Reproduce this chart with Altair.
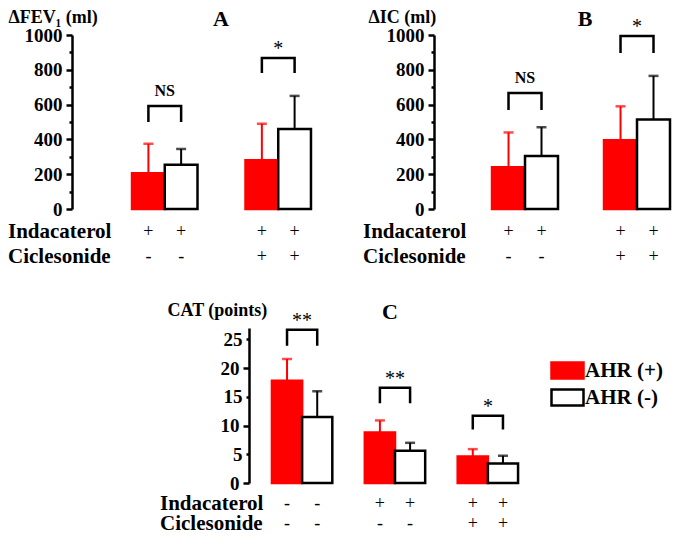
import altair as alt
import pandas as pd

FONT = "Liberation Serif"
RED = "#ff0000"

AHR = ["AHR (+)", "AHR (-)"]
GROUPS_AB = ["Indacaterol", "Indacaterol + Ciclesonide"]
GROUPS_C = ["Baseline", "Indacaterol", "Indacaterol + Ciclesonide"]

# Panel A: delta FEV1 (ml)
fev1_mean_pos = [205, 280]
fev1_sd_pos = [170, 210]
fev1_mean_neg = [255, 460]
fev1_sd_neg = [90, 190]
fev1_bracket_top = [592, 868]
fev1_bracket_leg = [500, 782]
fev1_sig = ["NS", "*"]

# Panel B: delta IC (ml)
ic_mean_pos = [240, 395]
ic_sd_pos = [200, 195]
ic_mean_neg = [305, 515]
ic_sd_neg = [165, 250]
ic_bracket_top = [667, 994]
ic_bracket_leg = [569, 897]
ic_sig = ["NS", "*"]

# Panel C: CAT (points)
cat_mean_pos = [17.8, 8.8, 4.6]
cat_sd_pos = [3.8, 2.1, 1.3]
cat_mean_neg = [11.5, 5.6, 3.4]
cat_sd_neg = [4.5, 1.4, 1.35]
cat_bracket_top = [26.7, 16.6, 11.7]
cat_bracket_leg = [23.9, 13.9, 9.3]
cat_sig = ["**", "**", "*"]

indac_ab = ["+", "+"]
cicle_ab = ["-", "+"]
indac_c = ["-", "+", "+"]
cicle_c = ["-", "-", "+"]


def text_layer(label, x, y, size, weight="bold", align="left"):
    return alt.Chart(pd.DataFrame({"t": [label]})).mark_text(
        font=FONT, fontSize=size, fontWeight=weight, align=align, baseline="middle", color="black"
    ).encode(x=alt.value(x), y=alt.value(y), text="t:N")


def anchor(x, y):
    # invisible layout anchor (zero-length, transparent rule)
    return alt.Chart(pd.DataFrame({"t": [0]})).mark_rule(opacity=0, strokeWidth=0.01).encode(
        x=alt.value(x), y=alt.value(y), y2=alt.value(y))


def panel(groups, mp, sp, mn, sn, btop, bleg, sig, indac, cicle, ymax, ticks, label_step, major_step,
          ytitle, ytitle_x, letter, letter_x, width, height, xscale, row_x, row_y, legend=None,
          anchor_xy=None):
    rows = []
    for i, g in enumerate(groups):
        for a, m, s in ((AHR[0], mp[i], sp[i]), (AHR[1], mn[i], sn[i])):
            rows.append({"group": g, "AHR": a, "mean": m, "upper": m + s,
                         "indac": indac[i], "cicle": cicle[i]})
    df = pd.DataFrame(rows)
    brk = []
    for i, g in enumerate(groups):
        brk += [{"group": g, "AHR": AHR[0], "v": bleg[i], "o": 0},
                {"group": g, "AHR": AHR[0], "v": btop[i], "o": 1},
                {"group": g, "AHR": AHR[1], "v": btop[i], "o": 2},
                {"group": g, "AHR": AHR[1], "v": bleg[i], "o": 3}]
    bdf = pd.DataFrame(brk)
    sdf = pd.DataFrame({"group": groups, "top": btop, "sig": sig})

    yscale = alt.Scale(domain=[0, ymax], nice=False, zero=True)
    yaxis = alt.Axis(
        values=ticks, format="d",
        labelExpr=f"datum.value % {label_step} === 0 ? datum.label : ''",
        tickSize={"condition": {"test": f"datum.value % {major_step} === 0", "value": 6}, "value": 3},
        grid=False, domainColor="black", domainWidth=2.5, tickColor="black", tickWidth=2.5,
        labelFont=FONT, labelFontSize=19, labelFontWeight="bold", labelColor="black",
        labelPadding=4, labelOverlap=False,
        title=ytitle, titleAngle=0, titleAlign="left", titleBaseline="middle",
        titleX=ytitle_x, titleY=-18, titleFont=FONT, titleFontSize=18,
        titleFontWeight="bold", titleColor="black",
    )
    X = alt.X("group:N", scale=xscale, axis=None)
    XO = alt.XOffset("AHR:N", scale=alt.Scale(domain=AHR, paddingInner=0, paddingOuter=0))
    fill_scale = alt.Scale(domain=AHR, range=[RED, "#ffffff"])
    stroke_scale = alt.Scale(domain=AHR, range=[RED, "#000000"])

    base = alt.Chart(df)
    bars = base.mark_bar(strokeWidth=2.5).encode(
        x=X, xOffset=XO, y=alt.Y("mean:Q", scale=yscale, axis=yaxis),
        fill=alt.Fill("AHR:N", scale=fill_scale, legend=legend),
        stroke=alt.Stroke("AHR:N", scale=stroke_scale, legend=legend),
    )
    layers = [bars]
    for a, col in ((AHR[0], RED), (AHR[1], "black")):
        sub = base.transform_filter(alt.datum.AHR == a)
        layers.append(sub.mark_rule(color=col, strokeWidth=2).encode(
            x=X, xOffset=XO, y=alt.Y("mean:Q", scale=yscale, axis=yaxis), y2="upper:Q"))
        layers.append(sub.mark_tick(color=col, size=10, thickness=2.5).encode(
            x=X, xOffset=XO, y=alt.Y("upper:Q", scale=yscale, axis=yaxis)))
    layers.append(alt.Chart(bdf).mark_line(color="black", strokeWidth=2.5, strokeJoin="miter").encode(
        x=X, xOffset=XO, y=alt.Y("v:Q", scale=yscale, axis=yaxis), detail="group:N", order="o:O"))
    layers.append(alt.Chart(sdf).transform_filter(alt.datum.sig == "NS").mark_text(
        font=FONT, fontSize=16, fontWeight="bold", baseline="alphabetic", dy=-10, color="black").encode(
        x=X, y=alt.Y("top:Q", scale=yscale, axis=yaxis), text="sig:N"))
    layers.append(alt.Chart(sdf).transform_filter(alt.datum.sig != "NS").mark_text(
        font=FONT, fontSize=20, fontWeight="normal", baseline="alphabetic", dy=-3, color="black").encode(
        x=X, y=alt.Y("top:Q", scale=yscale, axis=yaxis), text="sig:N"))
    layers.append(base.mark_text(font=FONT, fontSize=18, color="black", baseline="middle").encode(
        x=X, xOffset=XO, y=alt.value(height + row_y[0]), text="indac:N"))
    layers.append(base.mark_text(font=FONT, fontSize=18, color="black", baseline="middle").encode(
        x=X, xOffset=XO, y=alt.value(height + row_y[1]), text="cicle:N"))
    layers.append(text_layer("Indacaterol", row_x, height + row_y[0], 21))
    layers.append(text_layer("Ciclesonide", row_x, height + row_y[1], 21))
    layers.append(text_layer(letter, letter_x, -16, 22, align="center"))
    if anchor_xy is not None:
        layers.append(anchor(*anchor_xy))
    return alt.layer(*layers).properties(width=width, height=height)


A = panel(GROUPS_AB, fev1_mean_pos, fev1_sd_pos, fev1_mean_neg, fev1_sd_neg,
          fev1_bracket_top, fev1_bracket_leg, fev1_sig, indac_ab, cicle_ab,
          1000, list(range(0, 1001, 100)), 200, 200, "ΔFEV₁ (ml)", -64, "A", 149,
          299, 174, alt.Scale(domain=GROUPS_AB, paddingInner=0.423, paddingOuter=0.529),
          -64, (23, 48), anchor_xy=(0, 244))

B = panel(GROUPS_AB, ic_mean_pos, ic_sd_pos, ic_mean_neg, ic_sd_neg,
          ic_bracket_top, ic_bracket_leg, ic_sig, indac_ab, cicle_ab,
          1000, list(range(0, 1001, 100)), 200, 200, "ΔIC (ml)", -66, "B", 151,
          236, 174, alt.Scale(domain=GROUPS_AB, paddingInner=0.411, paddingOuter=0.259, align=1),
          -71, (23, 48))

legend_c = alt.Legend(
    orient="none", legendX=308, legendY=32, title=None,
    symbolType="M-2,-1H2V1H-2Z", symbolSize=256, symbolStrokeWidth=2.5,
    labelFont=FONT, labelFontSize=21, labelFontWeight="bold", labelColor="black",
    labelOffset=7, rowPadding=0, padding=0,
)

C = panel(GROUPS_C, cat_mean_pos, cat_sd_pos, cat_mean_neg, cat_sd_neg,
          cat_bracket_top, cat_bracket_leg, cat_sig, indac_c, cicle_c,
          27, list(range(0, 26, 5)), 5, 10, "CAT (points)", -82, "C", 141,
          292, 155, alt.Scale(domain=GROUPS_C, paddingInner=0.35, paddingOuter=0.247),
          -89, (21, 41), legend=legend_c, anchor_xy=(0, -40))

spacer = alt.Chart(pd.DataFrame({"t": [""]})).mark_text().encode(
    text="t:N", x=alt.value(0), y=alt.value(0)).properties(width=177, height=10)

res = dict(fill="independent", stroke="independent", xOffset="independent")
top = alt.hconcat(A, B, spacing=63, bounds="flush").resolve_scale(**res)
bottom = alt.hconcat(spacer, C, spacing=0, bounds="flush").resolve_scale(**res)
chart = alt.vconcat(top, bottom, spacing=9).resolve_scale(**res).properties(
    padding=0
).configure(font=FONT).configure_view(stroke=None)

chart.save("out.html", embed_options={"renderer": "svg", "actions": False})
